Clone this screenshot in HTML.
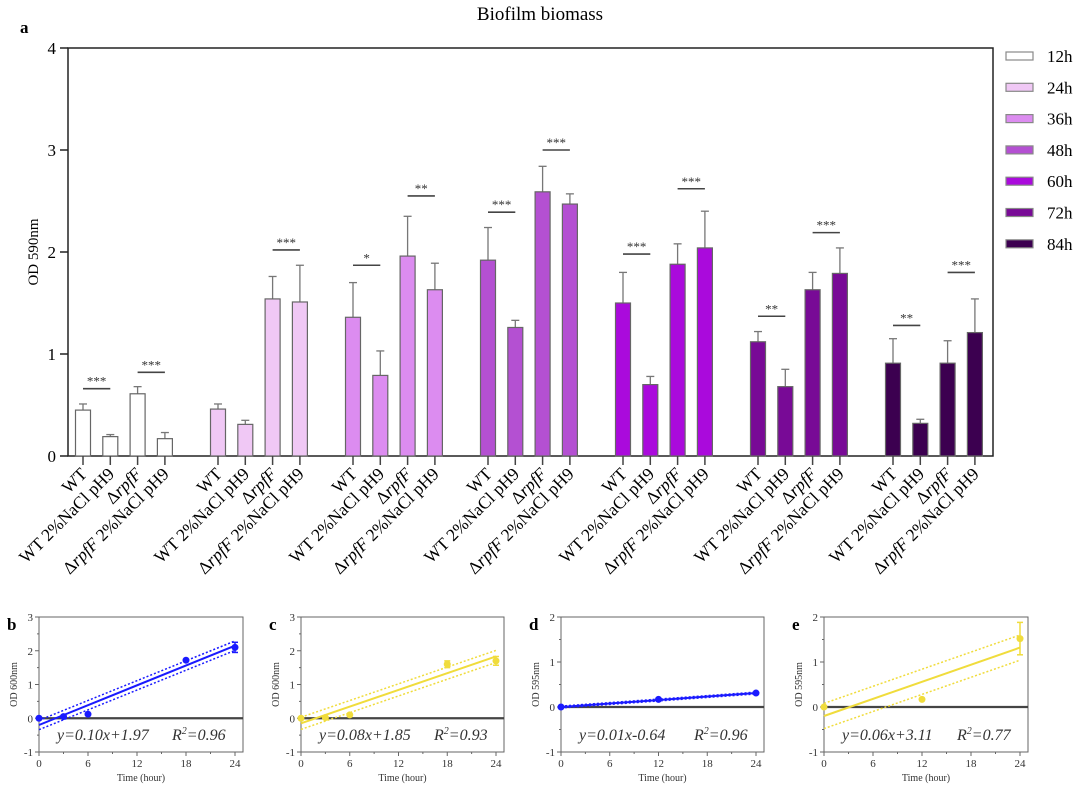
<!DOCTYPE html>
<html><head><meta charset="utf-8"><style>
body{margin:0;background:#fff;}
svg{display:block;font-family:"Liberation Serif",serif;}
</style></head><body>
<svg id="fig" width="1080" height="790" viewBox="0 0 1080 790" xmlns="http://www.w3.org/2000/svg"></svg>
<script>
// ---- Panel a data ----
const groups = ["12h","24h","36h","48h","60h","72h","84h"];
const conditions = ["WT","WT 2%NaCl pH9","ΔrpfF","ΔrpfF 2%NaCl pH9"];
const colors = ["#ffffff","#f0c8f5","#dc8cf0","#b450d2","#aa0adc","#780a96","#3c0050"];
const means = [
 [0.45,0.19,0.61,0.17],
 [0.46,0.31,1.54,1.51],
 [1.36,0.79,1.96,1.63],
 [1.92,1.26,2.59,2.47],
 [1.50,0.70,1.88,2.04],
 [1.12,0.68,1.63,1.79],
 [0.91,0.32,0.91,1.21]
];
const errTops = [
 [0.51,0.21,0.68,0.23],
 [0.51,0.35,1.76,1.87],
 [1.70,1.03,2.35,1.89],
 [2.24,1.33,2.84,2.57],
 [1.80,0.78,2.08,2.40],
 [1.22,0.85,1.80,2.04],
 [1.15,0.36,1.13,1.54]
];
// significance: [group, fromBar, toBar, level(value), stars]
const sigGroup = [0,0,1,1,2,2,3,3,4,4,5,5,6,6];
const sigFrom  = [0,2,2,0,0,2,0,2,0,2,0,2,0,2];
const sigTo    = [1,3,3,1,1,3,1,3,1,3,1,3,1,3];
const sigLevel = [0.66,0.82,2.02,0,1.87,2.55,2.39,3.0,1.98,2.62,1.37,2.19,1.28,1.80];
const sigText  = ["***","***","***","","*","**","***","***","***","***","**","***","**","***"];
const yTicksA = [0,1,2,3,4];

// ---- small panels data ----
const bX=[0,3,6,18,24], bY=[0,0.05,0.12,1.72,2.10], bErr=[0,0,0,0,0.15];
const cX=[0,3,6,18,24], cY=[0,0.02,0.10,1.60,1.70], cErr=[0,0,0,0.1,0.13];
const dX=[0,12,24], dY=[0,0.17,0.31], dErr=[0,0,0];
const eX=[0,12,24], eY=[0,0.17,1.52], eErr=[0,0,0.36];
const bFit=[-0.20,2.15], cFit=[-0.15,1.83], dFit=[0,0.31], eFit=[-0.20,1.32];
const bBand=0.14, cBand=0.18, dBand=0.02, eBand=0.28;
const xTicksSmall=[0,6,12,18,24];

const NS="http://www.w3.org/2000/svg";
const svg=document.getElementById('fig');
function el(tag,attrs,parent){const e=document.createElementNS(NS,tag);for(const k in attrs)e.setAttribute(k,attrs[k]);(parent||svg).appendChild(e);return e;}

// ---- Panel a ----
const ay=v=>456-v*102;
const ax=(g,i)=>83+135*g+27.3*i;
const gA=el('g',{});


let t=el('text',{x:540,y:20,'font-size':19,'text-anchor':'middle'},gA);t.textContent='Biofilm biomass';

t=el('text',{x:20,y:33,'font-size':17,'font-weight':'bold'},gA);t.textContent='a';

let fr=el('rect',{x:68,y:48,width:925,height:408,fill:'none',stroke:'#222','stroke-width':1.5},gA);

yTicksA.forEach(v=>{
 el('line',{x1:60,x2:68,y1:ay(v),y2:ay(v),stroke:'#222','stroke-width':1.5},gA);
 const tt=el('text',{x:56,y:ay(v)+6,'font-size':17,'text-anchor':'end'},gA);tt.textContent=v;
 
});
t=el('text',{x:0,y:0,'font-size':15,'text-anchor':'middle',transform:'translate(38,252) rotate(-90)'},gA);t.textContent='OD 590nm';

means.forEach((row,g)=>{
 row.forEach((v,i)=>{
  const cx=ax(g,i);
  el('line',{x1:cx,x2:cx,y1:ay(errTops[g][i]),y2:ay(v),stroke:'#777','stroke-width':1.3},gA);
  el('line',{x1:cx-4,x2:cx+4,y1:ay(errTops[g][i]),y2:ay(errTops[g][i]),stroke:'#777','stroke-width':1.3},gA);
  const r=el('rect',{x:cx-7.5,y:ay(v),width:15,height:ay(0)-ay(v),fill:colors[g],stroke:'#666','stroke-width':1.2},gA);
  
  
  el('line',{x1:cx,x2:cx,y1:456,y2:465,stroke:'#444','stroke-width':1.5},gA);
  const lab=el('text',{'font-size':17.5,'text-anchor':'end',transform:`translate(${cx+5},${475}) rotate(-45)`},gA);
  const c=conditions[i];
  if(c.startsWith('Δ')){
   const s1=el('tspan',{},lab);s1.textContent='Δ';
   const s2=el('tspan',{'font-style':'italic'},lab);s2.textContent='rpfF';
   const rest=c.slice(5);
   if(rest){const s3=el('tspan',{},lab);s3.textContent=rest;}
  } else lab.textContent=c;
  
  
 });
});
sigGroup.forEach((g,k)=>{
 if(!sigText[k])return;
 const x1=ax(g,sigFrom[k]),x2=ax(g,sigTo[k]),y=ay(sigLevel[k]);
 const l=el('line',{x1:x1,x2:x2,y1:y,y2:y,stroke:'#444','stroke-width':1.6},gA);
 
 const s=el('text',{x:(x1+x2)/2,y:y-3,'font-size':13,'text-anchor':'middle',fill:'#333'},gA);s.textContent=sigText[k];
 
});
groups.forEach((gname,g)=>{
 const yy=56+31.3*g;
 const r=el('rect',{x:1006,y:yy-4,width:27,height:8,fill:colors[g],stroke:'#888','stroke-width':1.2},gA);
 
 const tx=el('text',{x:1047,y:yy+6,'font-size':17},gA);tx.textContent=gname;
 
});

// ---- small panels ----
function panel(opt){
 const {name,letter,left,right,x24,top,bottom,ymax,ymin,ylabel,xs,ys,errs,fit,band,color,eq,r2}=opt;
 const g=el('g',{});
 
 
 const sx=v=>left+(x24-left)*v/24;
 const sy=v=>top+(bottom-top)*(ymax-v)/(ymax-ymin);
 el('rect',{x:left,y:top,width:right-left,height:bottom-top,fill:'none',stroke:'#666','stroke-width':1},g);
 for(let v=ymin;v<=ymax;v++){
  el('line',{x1:left-4,x2:left,y1:sy(v),y2:sy(v),stroke:'#666'},g);
  const tt=el('text',{x:left-6,y:sy(v)+4,'font-size':11,'text-anchor':'end',fill:'#333'},g);tt.textContent=v;
  
  if(v<ymax)el('line',{x1:left-2,x2:left,y1:sy(v+0.5),y2:sy(v+0.5),stroke:'#666'},g);
 }
 for(let h=0;h<=24;h+=3){el('line',{x1:sx(h),x2:sx(h),y1:bottom,y2:bottom+(h%6?2:4),stroke:'#666'},g);}
 xTicksSmall.forEach(h=>{const tt=el('text',{x:sx(h),y:bottom+15,'font-size':11,'text-anchor':'middle',fill:'#333'},g);tt.textContent=h;
  });
 let tt=el('text',{x:(left+right)/2,y:781,'font-size':10,'text-anchor':'middle',fill:'#333'},g);tt.textContent='Time (hour)';
 
 tt=el('text',{'font-size':10,'text-anchor':'middle',fill:'#333',transform:`translate(${left-22},${(top+bottom)/2}) rotate(-90)`},g);tt.textContent=ylabel;
 
 if(letter){tt=el('text',{x:left-32,y:top+13,'font-size':17,'font-weight':'bold'},g);tt.textContent=letter;
  }
 const z=el('line',{x1:left,x2:right,y1:sy(0),y2:sy(0),stroke:'#444','stroke-width':2.2},g);
 
 const fl=el('line',{x1:sx(0),x2:sx(24),y1:sy(fit[0]),y2:sy(fit[1]),stroke:color,'stroke-width':2},g);
 
 [band,-band].forEach(b=>{const bl=el('line',{x1:sx(0),x2:sx(24),y1:sy(fit[0]+b),y2:sy(fit[1]+b),stroke:color,'stroke-width':1.5,'stroke-dasharray':'2,2'},g);
  });
 xs.forEach((x,i)=>{
  if(errs[i]>0){el('line',{x1:sx(x),x2:sx(x),y1:sy(ys[i]+errs[i]),y2:sy(ys[i]-errs[i]),stroke:color,'stroke-width':1.5},g);
   [1,-1].forEach(s=>el('line',{x1:sx(x)-3,x2:sx(x)+3,y1:sy(ys[i]+s*errs[i]),y2:sy(ys[i]+s*errs[i]),stroke:color,'stroke-width':1.5},g));}
  const p=el('circle',{cx:sx(x),cy:sy(ys[i]),r:3.5,fill:color},g);
  
 });
 tt=el('text',{x:left+18,y:bottom-12,'font-size':16,'font-style':'italic',fill:'#333'},g);tt.textContent=eq;
 
 tt=el('text',{x:left+133,y:bottom-12,'font-size':16,'font-style':'italic',fill:'#333'},g);
 const a=el('tspan',{},tt);a.textContent='R';const s=el('tspan',{dy:-6,'font-size':10},tt);s.textContent='2';const c=el('tspan',{dy:6},tt);c.textContent='='+r2;
 
}
panel({name:'panel-b',letter:'b',left:39,right:243,x24:235,top:617,bottom:752,ymax:3,ymin:-1,ylabel:'OD 600nm',xs:bX,ys:bY,errs:bErr,fit:bFit,band:bBand,color:'#1a1aff',eq:'y=0.10x+1.97',r2:'0.96'});
panel({name:'panel-c',letter:'c',left:301,right:504,x24:496,top:617,bottom:752,ymax:3,ymin:-1,ylabel:'OD 600nm',xs:cX,ys:cY,errs:cErr,fit:cFit,band:cBand,color:'#f0dc3c',eq:'y=0.08x+1.85',r2:'0.93'});
panel({name:'panel-d',letter:'d',left:561,right:764,x24:756,top:617,bottom:752,ymax:2,ymin:-1,ylabel:'OD 595nm',xs:dX,ys:dY,errs:dErr,fit:dFit,band:dBand,color:'#1a1aff',eq:'y=0.01x-0.64',r2:'0.96'});
panel({name:'panel-e',letter:'e',left:824,right:1028,x24:1020,top:617,bottom:752,ymax:2,ymin:-1,ylabel:'OD 595nm',xs:eX,ys:eY,errs:eErr,fit:eFit,band:eBand,color:'#f0dc3c',eq:'y=0.06x+3.11',r2:'0.77'});
</script>
</body></html>
